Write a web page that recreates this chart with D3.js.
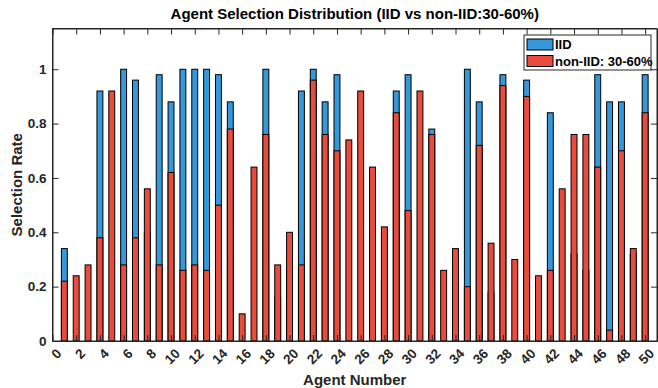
<!DOCTYPE html>
<html>
<head>
<meta charset="utf-8">
<script src="https://cdn.jsdelivr.net/npm/d3@7/dist/d3.min.js"></script>
<style>
  body { margin: 0; background: #fff; }
  text { font-family: "Liberation Sans", Arial, sans-serif; font-weight: bold; }
</style>
</head>
<body>
<div id="chart"></div>
<script>
// agent ids on the x axis
const agents = [1, 2, 3, 4, 5, 6, 7, 8, 9, 10, 11, 12, 13, 14, 15, 16, 17, 18, 19, 20,
  21, 22, 23, 24, 25, 26, 27, 28, 29, 30, 31, 32, 33, 34, 35, 36, 37, 38, 39, 40,
  41, 42, 43, 44, 45, 46, 47, 48, 49, 50];

// selection rate, IID run (drawn behind)
const iidRate = [0.34, 0, 0, 0.92, 0, 1.00, 0.96, 0.40, 0.98, 0.88,
  1.00, 1.00, 1.00, 0.98, 0.88, 0, 0, 1.00, 0.16, 0.26,
  0.92, 1.00, 0.88, 0.98, 0, 0, 0.40, 0.22, 0.92, 0.98,
  0, 0.78, 0, 0.26, 1.00, 0.88, 0.18, 0.98, 0, 0.96,
  0, 0.84, 0, 0.32, 0.26, 0.98, 0.88, 0.88, 0.32, 0.98];

// selection rate, non-IID 30-60% run (drawn in front)
const nonIidRate = [0.22, 0.24, 0.28, 0.38, 0.92, 0.28, 0.38, 0.56, 0.28, 0.62,
  0.26, 0.28, 0.26, 0.50, 0.78, 0.10, 0.64, 0.76, 0.28, 0.40,
  0.28, 0.96, 0.76, 0.70, 0.74, 0.92, 0.64, 0.42, 0.84, 0.48,
  0.92, 0.76, 0.26, 0.34, 0.20, 0.72, 0.36, 0.94, 0.30, 0.90,
  0.24, 0.26, 0.56, 0.76, 0.76, 0.64, 0.04, 0.70, 0.34, 0.84];

const xTicks = [0, 2, 4, 6, 8, 10, 12, 14, 16, 18, 20, 22, 24, 26, 28, 30, 32, 34, 36, 38, 40, 42, 44, 46, 48, 50];
const yTicks = [0, 0.2, 0.4, 0.6, 0.8, 1];
const seriesNames = ["IID", "non-IID: 30-60%"];
const seriesColors = ["#3498db", "#e74c3c"];

const W = 658, H = 388;
const margin = { top: 28.5, right: 1, bottom: 47, left: 52.5 };
const axisColor = "#262626";

const svg = d3.select("#chart").append("svg")
  .attr("width", W)
  .attr("height", H);

const x = d3.scaleLinear().domain([0, 51]).range([margin.left, W - margin.right]);
const y = d3.scaleLinear().domain([0, 1.15]).range([H - margin.bottom, margin.top]);
const barW = x(0.5) - x(0);

// bars: IID first, non-IID on top
[iidRate, nonIidRate].forEach(function (vals, s) {
  svg.append("g")
    .selectAll("rect")
    .data(agents.map(function (a, i) { return { a: a, v: vals[i] }; }).filter(function (d) { return d.v > 0; }))
    .enter().append("rect")
    .attr("x", function (d) { return x(d.a) - barW / 2; })
    .attr("y", function (d) { return y(d.v); })
    .attr("width", barW)
    .attr("height", function (d) { return y(0) - y(d.v); })
    .attr("fill", seriesColors[s])
    .attr("stroke", "#000")
    .attr("stroke-width", 1);
});

// axes, MATLAB-ish box with inward ticks
const tickLen = 6;
const xAxis = d3.axisBottom(x).tickValues(xTicks).tickSizeInner(-tickLen).tickSizeOuter(0).tickFormat(d3.format("d"));
const xTop = d3.axisTop(x).tickValues(xTicks).tickSizeInner(-tickLen).tickSizeOuter(0).tickFormat("");
const yAxis = d3.axisLeft(y).tickValues(yTicks).tickSizeInner(-tickLen).tickSizeOuter(0).tickFormat(function (d) { return d3.format("")(+d.toFixed(1)); });
const yRight = d3.axisRight(y).tickValues(yTicks).tickSizeInner(-tickLen).tickSizeOuter(0).tickFormat("");

const gx = svg.append("g").attr("transform", "translate(0," + y(0) + ")").call(xAxis);
gx.selectAll("text")
  .attr("font-size", 13.5)
  .attr("fill", axisColor)
  .attr("text-anchor", "end")
  .attr("dy", "0.35em")
  .attr("y", 0)
  .attr("transform", "translate(6,10) rotate(-45)");

svg.append("g").attr("transform", "translate(0," + y(1.15) + ")").call(xTop);

const gy = svg.append("g").attr("transform", "translate(" + x(0) + ",0)").call(yAxis);
gy.selectAll("text")
  .attr("font-size", 13.5)
  .attr("fill", axisColor)
  .attr("x", -6);

svg.append("g").attr("transform", "translate(" + x(51) + ",0)").call(yRight);

svg.selectAll(".domain").attr("stroke", axisColor);
svg.selectAll(".tick line").attr("stroke", axisColor);

// box edges
svg.append("rect")
  .attr("x", x(0))
  .attr("y", y(1.15))
  .attr("width", x(51) - x(0))
  .attr("height", y(0) - y(1.15))
  .attr("fill", "none")
  .attr("stroke", axisColor)
  .attr("stroke-width", 1);

// title and labels
svg.append("text")
  .attr("x", (x(0) + x(51)) / 2)
  .attr("y", 19)
  .attr("text-anchor", "middle")
  .attr("font-size", 15)
  .attr("fill", "#000")
  .text("Agent Selection Distribution (IID vs non-IID:30-60%)");

svg.append("text")
  .attr("x", (x(0) + x(51)) / 2)
  .attr("y", 385)
  .attr("text-anchor", "middle")
  .attr("font-size", 15)
  .attr("fill", axisColor)
  .text("Agent Number");

svg.append("text")
  .attr("transform", "translate(22," + (y(0) + y(1.15)) / 2 + ") rotate(-90)")
  .attr("text-anchor", "middle")
  .attr("font-size", 15)
  .attr("fill", axisColor)
  .text("Selection Rate");

// legend
const lg = svg.append("g").attr("transform", "translate(524,35)");
lg.append("rect")
  .attr("width", 127).attr("height", 35)
  .attr("fill", "#fff")
  .attr("stroke", axisColor)
  .attr("stroke-width", 1);
seriesNames.forEach(function (name, i) {
  lg.append("rect")
    .attr("x", 3).attr("y", 4 + i * 16.5)
    .attr("width", 26).attr("height", 11)
    .attr("fill", seriesColors[i])
    .attr("stroke", "#000")
    .attr("stroke-width", 1);
  lg.append("text")
    .attr("x", 31).attr("y", 14 + i * 16.5)
    .attr("font-size", 13)
    .attr("fill", "#000")
    .text(name);
});
</script>
</body>
</html>
